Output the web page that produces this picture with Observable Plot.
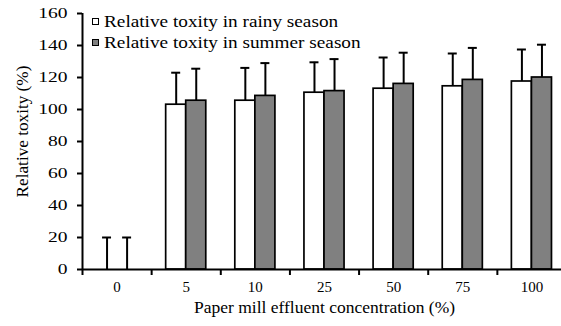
<!DOCTYPE html>
<html>
<head>
<meta charset="utf-8">
<script src="https://cdn.jsdelivr.net/npm/d3@7"></script>
<script src="https://cdn.jsdelivr.net/npm/@observablehq/plot@0.6"></script>
<style>
  html, body { margin: 0; padding: 0; background: #fff; overflow: hidden; }
  #chart { position: relative; width: 561px; height: 326px; }
  .legend {
    position: absolute; left: 92px; top: 10.5px;
    font-family: "Liberation Serif", "Times New Roman", serif;
    font-size: 17.5px; color: #000;
  }
  .legend .row { display: flex; align-items: center; height: 21px; }
  .legend .swatch {
    width: 5px; height: 5px; border: 1.6px solid #000; flex: none;
  }
  .legend .label {
    margin-left: 4.5px; white-space: nowrap;
    transform: scaleX(1.1); transform-origin: left center;
  }
</style>
</head>
<body>
<div id="chart"></div>
<script>
// Concentration groups and measured relative toxicity (%), mean and error
const categories = ["0", "5", "10", "25", "50", "75", "100"];
const rainy = [0, 103, 105.5, 110.5, 113, 114.5, 117.5];
const summer = [0, 105.5, 108.5, 111.5, 116, 118.5, 120];
const rainyErr = [20, 20, 20.5, 19, 19.5, 20.5, 20];
const summerErr = [20, 20, 20.5, 20, 19.5, 20, 20.5];
const seasons = ["rainy", "summer"];
const seasonLabels = ["Relative toxity in rainy season", "Relative toxity in summer season"];
const seasonColors = ["#ffffff", "#808080"];
const yTicks = [0, 20, 40, 60, 80, 100, 120, 140, 160];

const BAR = 0.29;   // bar width, in category units
const CAP = 0.065;  // half-width of error-bar caps

const rows = categories.flatMap((c, i) => [
  {i, season: "rainy", value: rainy[i], err: rainyErr[i]},
  {i, season: "summer", value: summer[i], err: summerErr[i]}
]);
const left = d => d.season === "rainy" ? d.i + 0.5 - BAR : d.i + 0.5;
const mid = d => left(d) + BAR / 2;

const font = '"Liberation Serif", "Times New Roman", serif';

const plot = Plot.plot({
  width: 561,
  height: 326,
  marginLeft: 82,
  marginRight: -5,
  marginTop: 13,
  marginBottom: 57,
  style: {fontFamily: font, fontSize: "15px", color: "#000", background: "#fff"},
  x: {domain: [0, categories.length], axis: null},
  y: {domain: [0, 160], axis: null},
  color: {domain: seasons, range: seasonColors},
  marks: [
    Plot.axisY({ticks: yTicks, tickSize: 5, tickPadding: 10, strokeWidth: 2, label: null, fontSize: 15}),
    Plot.axisX({ticks: d3.range(categories.length + 1), tickSize: 6, tickFormat: () => "", strokeWidth: 2, label: null}),
    Plot.rect(rows, {
      x1: left, x2: d => left(d) + BAR, y1: 0, y2: "value",
      fill: "season", stroke: "#000", strokeWidth: 1.7
    }),
    Plot.ruleY([0], {stroke: "#000", strokeWidth: 2}),
    Plot.ruleX([0], {stroke: "#000", strokeWidth: 2}),
    Plot.ruleX(rows, {x: mid, y1: "value", y2: d => d.value + d.err, stroke: "#000", strokeWidth: 2}),
    Plot.ruleY(rows, {
      y: d => d.value + d.err, x1: d => mid(d) - CAP, x2: d => mid(d) + CAP,
      stroke: "#000", strokeWidth: 2
    }),
    Plot.text(categories, {
      x: (d, i) => i + 0.5, frameAnchor: "bottom", dy: 22,
      text: d => d, fontSize: 15, ariaLabel: "x tick labels"
    }),
    Plot.text(["Paper mill effluent concentration (%)"], {
      frameAnchor: "bottom", dy: 43, fontSize: 17.5, ariaLabel: "x title"
    }),
    Plot.text(["Relative toxity (%)"], {
      frameAnchor: "left", textAnchor: "middle", rotate: -90, dx: -60, dy: -10,
      fontSize: 17.2, ariaLabel: "y title"
    })
  ]
});

const chart = document.getElementById("chart");
chart.appendChild(plot);

// Widen horizontal text to the chart's broad serif lettering
function widen(selector, k) {
  plot.querySelectorAll(selector).forEach(t => {
    const len = t.getComputedTextLength();
    if (len > 0) {
      t.setAttribute("textLength", len * k);
      t.setAttribute("lengthAdjust", "spacingAndGlyphs");
    }
  });
}
widen('g[aria-label="y-axis tick label"] text', 1.3);
widen('g[aria-label="x tick labels"] text', 1.3);
widen('g[aria-label="x title"] text', 1.1);

// Legend
const legend = document.createElement("div");
legend.className = "legend";
seasons.forEach((s, k) => {
  const row = document.createElement("div");
  row.className = "row";
  const sw = document.createElement("span");
  sw.className = "swatch";
  sw.style.background = seasonColors[k];
  const lab = document.createElement("span");
  lab.className = "label";
  lab.textContent = seasonLabels[k];
  row.append(sw, lab);
  legend.appendChild(row);
});
chart.appendChild(legend);
</script>
</body>
</html>
